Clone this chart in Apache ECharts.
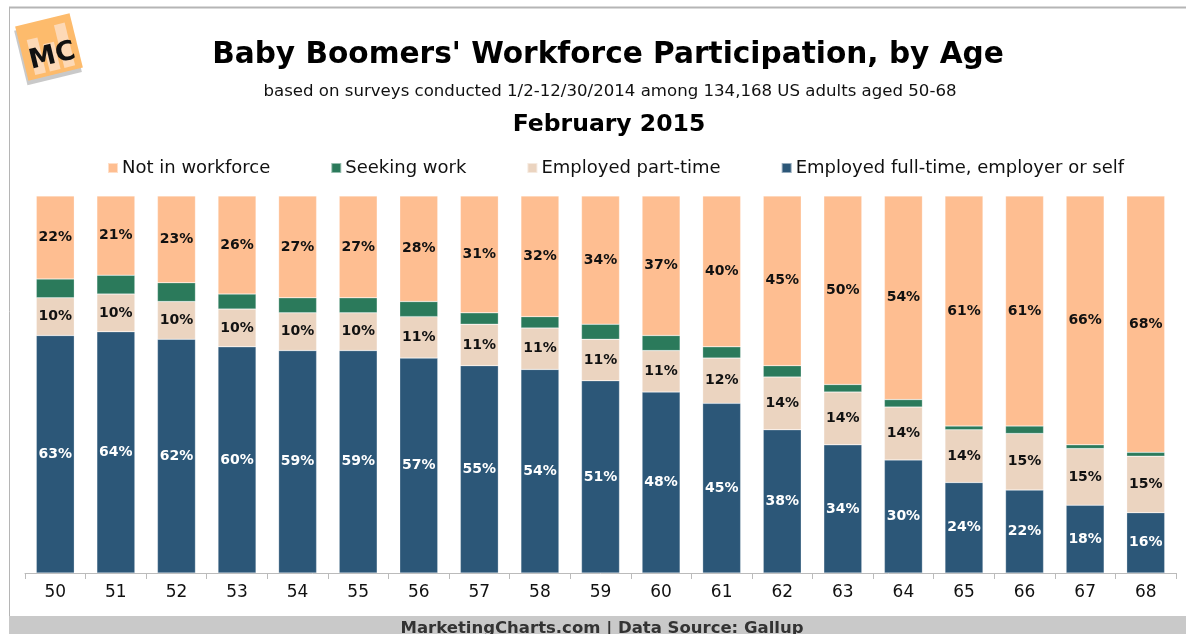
<!DOCTYPE html>
<html>
<head>
<meta charset="utf-8">
<script src="https://cdn.jsdelivr.net/npm/echarts@6/dist/echarts.min.js"></script>
<style>
  html, body { margin: 0; padding: 0; background: #fff; }
  #chart { width: 1186px; height: 634px; }
</style>
</head>
<body>
<div id="chart"></div>
<script>
// ages on the x axis
var ages = ["50", "51", "52", "53", "54", "55", "56", "57", "58", "59", "60", "61", "62", "63", "64", "65", "66", "67", "68"];

// percentages, bottom to top of each bar
var fullTime   = [63, 64, 62, 60, 59, 59, 57, 55, 54, 51, 48, 45, 38, 34, 30, 24, 22, 18, 16];
var partTime   = [10, 10, 10, 10, 10, 10, 11, 11, 11, 11, 11, 12, 14, 14, 14, 14, 15, 15, 15];
var seeking    = [5, 5, 5, 4, 4, 4, 4, 3, 3, 4, 4, 3, 3, 2, 2, 1, 2, 1, 1];
var notInForce = [22, 21, 23, 26, 27, 27, 28, 31, 32, 34, 37, 40, 45, 50, 54, 61, 61, 66, 68];

var font = "'DejaVu Sans', Verdana, sans-serif";

var chart = echarts.init(document.getElementById("chart"));

function barSeries(name, data, color, labelColor, showLabel) {
    return {
        name: name,
        type: "bar",
        stack: "total",
        barWidth: 38,
        data: data,
        itemStyle: { color: color, borderColor: "rgba(255,255,255,0.5)", borderWidth: 0.5 },
        label: {
            show: showLabel,
            position: "inside",
            formatter: "{c}%",
            color: labelColor,
            fontFamily: font,
            fontWeight: "bold",
            fontSize: 14,
        },
        emphasis: { disabled: true },
    };
}

var option = {
    animation: false,
    title: [
        {
            text: "Baby Boomers' Workforce Participation, by Age",
            left: 603,
            top: 35,
            textAlign: "center",
            textStyle: { fontFamily: font, fontWeight: "bold", fontSize: 29.6, color: "#000" },
        },
        {
            text: "based on surveys conducted 1/2-12/30/2014 among 134,168 US adults aged 50-68",
            left: 605,
            top: 78,
            textAlign: "center",
            textStyle: { fontFamily: font, fontWeight: "normal", fontSize: 16.6, color: "#111" },
        },
        {
            text: "February 2015",
            left: 604,
            top: 108,
            textAlign: "center",
            textStyle: { fontFamily: font, fontWeight: "bold", fontSize: 23.5, color: "#000" },
        },
    ],
    legend: {
        top: 154,
        left: 102,
        itemWidth: 10,
        itemHeight: 10,
        itemGap: 60,
        icon: "rect",
        data: ["Not in workforce", "Seeking work", "Employed part-time", "Employed full-time, employer or self"],
        textStyle: { fontFamily: font, fontSize: 18, color: "#111", padding: [0, 0, 0, -1] },
        selectedMode: false,
    },
    grid: {
        left: 25,
        right: 10,
        top: 196,
        bottom: 61,
    },
    xAxis: {
        type: "category",
        data: ages,
        axisLine: { lineStyle: { color: "#bbb", width: 1 } },
        axisTick: { show: true, length: 6, lineStyle: { color: "#bbb" } },
        axisLabel: { fontFamily: font, fontSize: 17, color: "#111", margin: 11 },
    },
    yAxis: {
        type: "value",
        min: 0,
        max: 100,
        show: false,
    },
    series: [
        barSeries("Employed full-time, employer or self", fullTime, "#2c5778", "#fff", true),
        barSeries("Employed part-time", partTime, "#ebd4c0", "#111", true),
        barSeries("Seeking work", seeking, "#2b7a5b", "#111", false),
        barSeries("Not in workforce", notInForce, "#febe91", "#111", true),
    ],
    graphic: [
        // frame
        { type: "line", shape: { x1: 9, y1: 7.5, x2: 1186, y2: 7.5 }, style: { stroke: "#b5b5b5", lineWidth: 2 } },
        { type: "line", shape: { x1: 9.5, y1: 7, x2: 9.5, y2: 616 }, style: { stroke: "#b5b5b5", lineWidth: 1 } },
        // footer
        { type: "rect", shape: { x: 9, y: 616, width: 1177, height: 18 }, style: { fill: "#c9c9c9" } },
        {
            type: "text",
            x: 602,
            y: 620,
            style: {
                text: "MarketingCharts.com | Data Source: Gallup",
                fill: "#333",
                font: "bold 16.5px " + font,
                textAlign: "center",
            },
        },
        // logo
        {
            type: "group",
            x: 49,
            y: 47,
            rotation: 0.24,
            children: [
                { type: "rect", shape: { x: -28, y: -28, width: 56, height: 56 }, style: { fill: "#888", opacity: 0.45 }, x: -2, y: 4 },
                { type: "rect", shape: { x: -28, y: -28, width: 56, height: 56 }, style: { fill: "#fdbb6c" } },
                { type: "rect", shape: { x: -20, y: -12, width: 11, height: 36 }, style: { fill: "#fdd9b6" } },
                { type: "rect", shape: { x: -5, y: -4, width: 11, height: 28 }, style: { fill: "#fdd9b6" } },
                { type: "rect", shape: { x: 10, y: -20, width: 11, height: 44 }, style: { fill: "#fdd9b6" } },
                {
                    type: "text",
                    x: 1,
                    y: 10,
                    style: { text: "MC", fill: "#111", font: "bold 27px " + font, textAlign: "center", textVerticalAlign: "middle" },
                },
            ],
        },
    ],
};

chart.setOption(option);
</script>
</body>
</html>
